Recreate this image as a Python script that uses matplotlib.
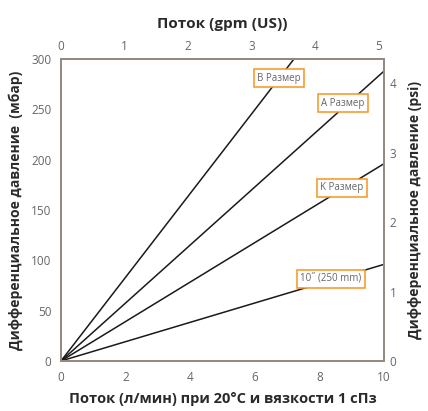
import matplotlib.pyplot as plt

plt.rcParams['font.family'] = ['Open Sans', 'DejaVu Sans']

# flow in l/min and pressure drop in mbar at the right edge (10 l/min)
flow_lpm = [0, 10]
size_names = ['B Размер', 'A Размер', 'K Размер', '10˝ (250 mm)']
dp_at_10 = [416, 288, 196, 96]
label_pos = [(6.75, 281), (8.73, 256), (8.7, 172), (8.35, 81.5)]

x_ticks = [0, 2, 4, 6, 8, 10]
y_ticks = [0, 50, 100, 150, 200, 250, 300]
gpm_ticks = [0, 1, 2, 3, 4, 5]
psi_ticks = [0, 1, 2, 3, 4]

MBAR_PER_PSI = 68.95
GPM_MAX = 5.09

spine_col = '#958a80'
tick_col = '#666666'
label_col = '#2a2a2a'
orange = '#f7941d'

fig = plt.figure(figsize=(4.28, 4.11), dpi=100)
ax = fig.add_axes([0.1425, 0.1217, 0.7547, 0.7347])

for dp, name, (tx, ty) in zip(dp_at_10, size_names, label_pos):
    ax.plot(flow_lpm, [0, dp], color='#1a1a1a', lw=1.1, clip_on=True)
    ax.text(tx, ty, name, fontsize=7, color='#666666', ha='center', va='center',
            bbox=dict(boxstyle='square,pad=0.35', fc='white', ec=orange, lw=1.1))

ax.set_xlim(0, 10)
ax.set_ylim(0, 300)
ax.set_xticks(x_ticks)
ax.set_yticks(y_ticks)
ax.tick_params(length=0, labelsize=8.5, labelcolor=tick_col, pad=7)
for s in ax.spines.values():
    s.set_color(spine_col)
    s.set_linewidth(1.2)
ax.set_xlabel('Поток (л/мин) при 20°C и вязкости 1 сПз', fontsize=10.5,
              fontweight='bold', color=label_col, labelpad=6)
ax.set_ylabel('Дифференциальное давление  (мбар)', fontsize=10,
              fontweight='bold', color=label_col, labelpad=6)

# top axis: gpm (US)
top = ax.twiny()
top.set_xlim(0, GPM_MAX)
top.set_xticks(gpm_ticks)
top.tick_params(length=0, labelsize=8.5, labelcolor=tick_col, pad=4)
top.set_xlabel('Поток (gpm (US))', fontsize=11, fontweight='bold',
               color=label_col, labelpad=9)

# right axis: psi
right = ax.twinx()
right.set_ylim(0, 300 / MBAR_PER_PSI)
right.set_yticks(psi_ticks)
right.tick_params(length=0, labelsize=8.5, labelcolor=tick_col, pad=4)
right.set_ylabel('Дифференциальное давление (psi)', fontsize=10,
                 fontweight='bold', color=label_col, labelpad=8)

for a in (top, right):
    for s in a.spines.values():
        s.set_color(spine_col)
        s.set_linewidth(1.2)

fig.savefig('out.png', dpi=100)
